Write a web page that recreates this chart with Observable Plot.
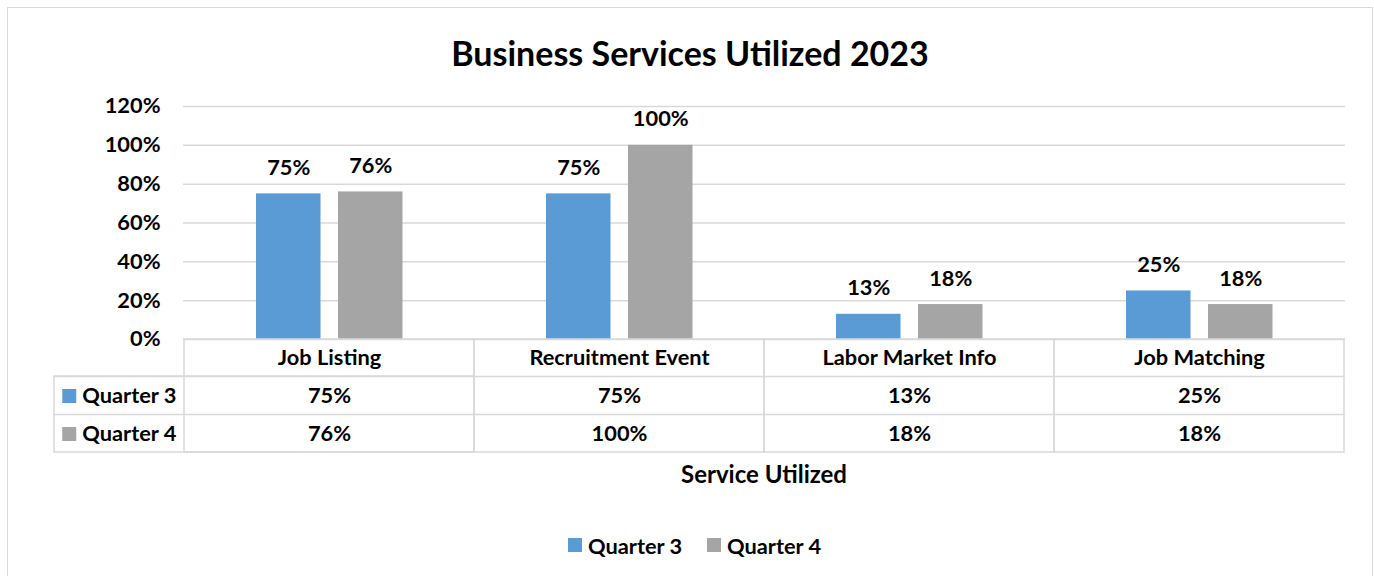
<!DOCTYPE html>
<html>
<head>
<meta charset="utf-8">
<script src="https://cdn.jsdelivr.net/npm/d3@7"></script>
<script src="https://cdn.jsdelivr.net/npm/@observablehq/plot@0.6"></script>
<style>
  html, body { margin: 0; padding: 0; background: #fff; }
  #wrap { position: relative; width: 1374px; height: 576px; overflow: hidden; font-family: Lato, sans-serif; font-weight: bold; color: #000; }
  #border { position: absolute; left: 7px; top: 7px; width: 1364px; height: 600px; border: 1px solid #d9d9d9; }
  #title { position: absolute; left: 7px; width: 1366px; top: 31px; text-align: center; font-size: 34px; line-height: 44px; }
  #chart { position: absolute; left: 0; top: 0; }
  #xlabel { position: absolute; left: 564px; width: 400px; top: 459px; text-align: center; font-size: 24px; line-height: 30px; }
  .item { position: absolute; top: 531px; height: 28px; display: flex; align-items: center; font-size: 21.8px; white-space: nowrap; }
  .sw { width: 14px; height: 14px; margin-right: 6px; }
</style>
</head>
<body>
<div id="wrap">
  <div id="border"></div>
  <div id="title">Business Services Utilized 2023</div>
  <div id="chart"></div>
  <div id="xlabel">Service Utilized</div>
  <div id="legend"></div>
</div>
<script>
const categories = ["Job Listing", "Recruitment Event", "Labor Market Info", "Job Matching"];
const quarter3 = [75, 75, 13, 25];
const quarter4 = [76, 100, 18, 18];
const seriesNames = ["Quarter 3", "Quarter 4"];
const seriesColors = ["#5b9bd5", "#a5a5a5"];
const yTicks = [0, 20, 40, 60, 80, 100, 120];

const q3Data = categories.map((c, i) => ({category: c, value: quarter3[i]}));
const q4Data = categories.map((c, i) => ({category: c, value: quarter4[i]}));
const pct = d => d + "%";
const grid = "#d9d9d9";
const txt = {fontSize: 21.8, fontWeight: "bold", fill: "#000"};

const chart = Plot.plot({
  width: 1374,
  height: 460,
  marginLeft: 183,
  marginRight: 29,
  marginTop: 106,
  marginBottom: 121,
  x: {type: "band", domain: categories, padding: 0, axis: null},
  y: {domain: [0, 120], axis: null},
  style: {fontFamily: "Lato, sans-serif", fontSize: "21.8px", fontWeight: "bold", background: "transparent", color: "#000"},
  marks: [
    Plot.gridY({ticks: yTicks, stroke: grid, strokeOpacity: 1, strokeWidth: 1.5}),
    Plot.axisY({ticks: yTicks, tickSize: 0, tickPadding: 23, tickFormat: pct, label: null, ...txt}),
    Plot.barY(q3Data, {x: "category", y: "value", fill: seriesColors[0], insetLeft: 72, insetRight: 153.5}),
    Plot.barY(q4Data, {x: "category", y: "value", fill: seriesColors[1], insetLeft: 154, insetRight: 71.5}),
    Plot.text(q3Data, {x: "category", y: "value", text: d => pct(d.value), dx: -40.75, dy: -26, lineAnchor: "middle", ...txt}),
    Plot.text(q4Data, {x: "category", y: "value", text: d => pct(d.value), dx: 41.25, dy: -26, lineAnchor: "middle", ...txt}),
    // data table
    Plot.cell(categories, {x: d => d, fill: "none", stroke: grid, strokeWidth: 1.5, insetTop: 120, dy: 113}),
    Plot.cell([categories[0]], {x: d => d, fill: "none", stroke: grid, strokeWidth: 1.5, insetTop: 157, insetLeft: -130, dy: 113}),
    Plot.ruleY([0], {stroke: grid, strokeWidth: 1.5, dy: 37, insetLeft: -130}),
    Plot.ruleY([0], {stroke: grid, strokeWidth: 1.5, dy: 75, insetLeft: -130}),
    Plot.text(categories, {x: d => d, frameAnchor: "bottom", lineAnchor: "middle", dy: 19, text: d => d, ...txt}),
    Plot.text(q3Data, {x: "category", frameAnchor: "bottom", lineAnchor: "middle", dy: 56.5, text: d => pct(d.value), ...txt}),
    Plot.text(q4Data, {x: "category", frameAnchor: "bottom", lineAnchor: "middle", dy: 94.5, text: d => pct(d.value), ...txt}),
    Plot.dot([seriesNames[0]], {x: () => categories[0], frameAnchor: "bottom", symbol: "square", r: 7.9, fill: seriesColors[0], dx: -260.25, dy: 56.5}),
    Plot.dot([seriesNames[1]], {x: () => categories[0], frameAnchor: "bottom", symbol: "square", r: 7.9, fill: seriesColors[1], dx: -260.25, dy: 94.5}),
    Plot.text([seriesNames[0]], {x: () => categories[0], frameAnchor: "bottom", lineAnchor: "middle", text: d => d, textAnchor: "start", dx: -247.25, dy: 56.5, ...txt}),
    Plot.text([seriesNames[1]], {x: () => categories[0], frameAnchor: "bottom", lineAnchor: "middle", text: d => d, textAnchor: "start", dx: -247.25, dy: 94.5, ...txt})
  ]
});
document.getElementById("chart").appendChild(chart);

const legend = document.getElementById("legend");
const legendLeft = [568, 707];
seriesNames.forEach((name, i) => {
  const item = document.createElement("div");
  item.className = "item";
  item.style.left = legendLeft[i] + "px";
  const sw = document.createElement("div");
  sw.className = "sw";
  sw.style.background = seriesColors[i];
  const label = document.createElement("span");
  label.textContent = name;
  item.appendChild(sw);
  item.appendChild(label);
  legend.appendChild(item);
});
</script>
</body>
</html>
